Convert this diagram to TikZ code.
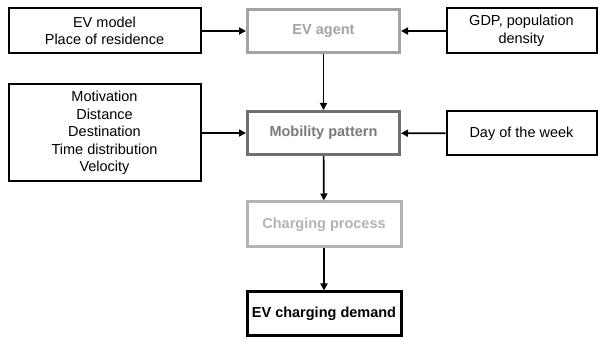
\documentclass[tikz,border=0pt]{standalone}
\usepackage{fontspec}
\setmainfont{Liberation Sans}
\usetikzlibrary{arrows.meta}
\definecolor{agentgray}{HTML}{A3A3A3}
\definecolor{mobgray}{HTML}{707070}
\definecolor{mobtext}{HTML}{7A7A7A}
\definecolor{chggray}{HTML}{B3B3B3}
\tikzset{
  box/.style={draw=black, line width=2pt, fill=white, align=center,
    font=\fontsize{14.5}{17.5}\selectfont, inner sep=0pt},
  stage/.style={box, font=\fontsize{14.5}{17.5}\selectfont\bfseries},
  link/.style={line width=1.7pt, -{Triangle[length=7pt,width=7pt]}},
}
\begin{document}
\begin{tikzpicture}[x=1pt, y=-1pt]
  \useasboundingbox (0,0) rectangle (598,339);
  % input boxes
  \node[box, minimum width=192pt, minimum height=45pt] (model) at (104.5,31)
    {EV model\\Place of residence};
  \node[box, minimum width=150pt, minimum height=45pt] (gdp) at (521.5,31)
    {GDP, population\\density};
  \node[box, minimum width=192pt, minimum height=97pt] (motiv) at (104.5,133)
    {Motivation\\Distance\\Destination\\Time distribution\\Velocity};
  \node[box, minimum width=150pt, minimum height=44pt] (day) at (521.5,133.5)
    {Day of the week};
  % model stages
  \node[stage, draw=agentgray, text=agentgray, line width=3pt,
    minimum width=152pt, minimum height=43pt] (agent) at (323.5,31) {EV agent};
  \node[stage, draw=mobgray, text=mobtext, line width=3pt,
    minimum width=152pt, minimum height=43pt] (mob) at (323.5,133) {Mobility pattern};
  \node[stage, draw=chggray, text=chggray, line width=3pt,
    minimum width=154pt, minimum height=45pt] (chg) at (324,224.5) {Charging process};
  \node[stage, text=black, line width=3pt,
    minimum width=154pt, minimum height=44pt] (dem) at (324,314) {EV charging demand};
  % connectors
  \draw[link] (model) -- (agent);
  \draw[link] (gdp) -- (agent);
  \draw[link] (motiv) -- (mob);
  \draw[link] (day) -- (mob);
  \draw[link] (agent) -- (mob);
  \draw[link] (mob) -- (chg);
  \draw[link] (chg) -- (dem);
\end{tikzpicture}
\end{document}
